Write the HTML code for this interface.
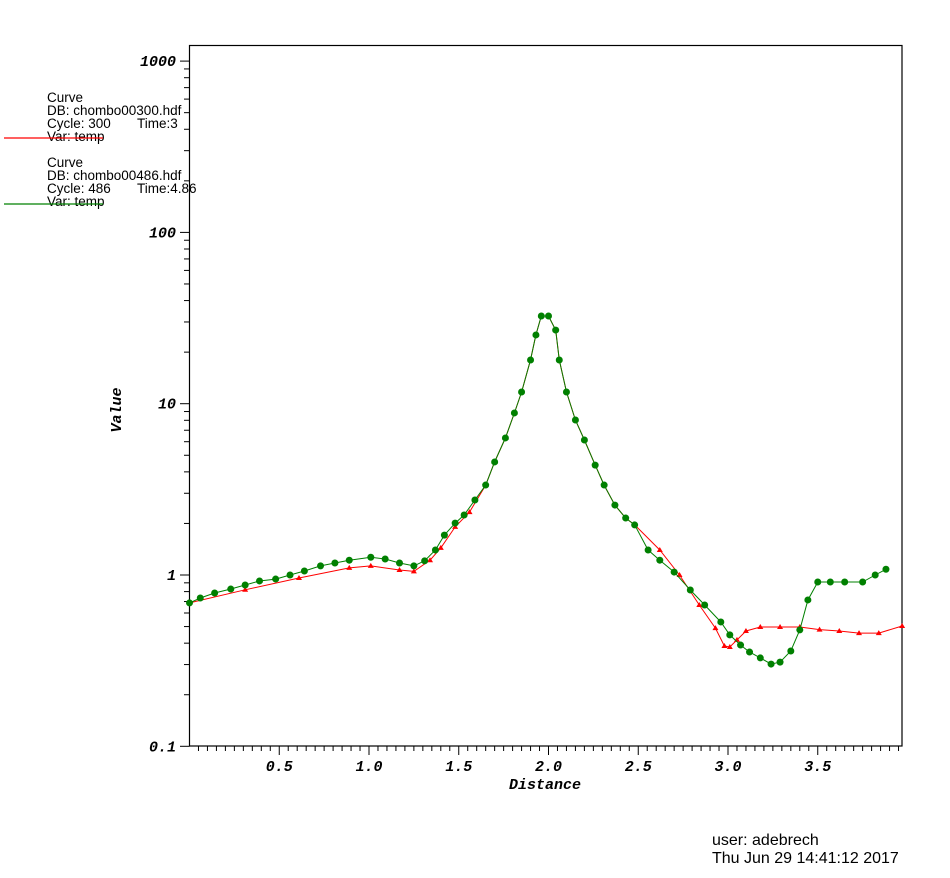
<!DOCTYPE html>
<html><head><meta charset="utf-8"><style>
body{margin:0;background:#fff;width:950px;height:878px;overflow:hidden}
svg{display:block}
.lg{font-family:"Liberation Sans",sans-serif;font-size:13.5px;fill:#000}
.ft{font-family:"Liberation Sans",sans-serif;font-size:16px;fill:#000}
.tk{font-family:"Liberation Mono",monospace;font-weight:bold;font-style:italic;font-size:15px;fill:#000}
</style></head><body>
<svg id="chart" width="950" height="878" xmlns="http://www.w3.org/2000/svg">
<rect x="189.5" y="45.5" width="712.5" height="700.5" fill="none" stroke="#000" stroke-width="1.2"/>
<g id="axes"></g>
<g id="series"></g>
<text class="tk" transform="translate(121,410) rotate(-90)" text-anchor="middle">Value</text>
<text class="tk" x="545" y="789" text-anchor="middle">Distance</text>
<g>
<text class="lg" x="47" y="102">Curve</text>
<text class="lg" x="47" y="115">DB: chombo00300.hdf</text>
<text class="lg" x="47" y="128">Cycle: 300</text><text class="lg" x="137" y="128">Time:3</text>
<text class="lg" x="47" y="141">Var: temp</text>
<line x1="4" y1="138" x2="103" y2="138" stroke="red" stroke-width="1.2"/>
<text class="lg" x="47" y="167">Curve</text>
<text class="lg" x="47" y="180">DB: chombo00486.hdf</text>
<text class="lg" x="47" y="193">Cycle: 486</text><text class="lg" x="137" y="193">Time:4.86</text>
<text class="lg" x="47" y="206">Var: temp</text>
<line x1="4" y1="204" x2="103" y2="204" stroke="green" stroke-width="1.2"/>
</g>
<text class="ft" x="712" y="845">user: adebrech</text>
<text class="ft" x="712" y="863">Thu Jun 29 14:41:12 2017</text>
</svg>
<script>
const xTicks=[0.5,1.0,1.5,2.0,2.5,3.0,3.5];
const xTickLabels=["0.5","1.0","1.5","2.0","2.5","3.0","3.5"];
const yTicks=[0.1,1,10,100,1000];
const yTickLabels=["0.1","1","10","100","1000"];
const greenX=[0,0.06,0.14,0.23,0.31,0.39,0.48,0.56,0.64,0.73,0.81,0.89,1.01,1.09,1.17,1.25,1.31,1.37,1.42,1.48,1.53,1.59,1.65,1.70,1.76,1.81,1.85,1.90,1.93,1.96,2.00,2.04,2.06,2.10,2.15,2.20,2.26,2.31,2.37,2.43,2.48,2.555,2.62,2.70,2.79,2.87,2.96,3.01,3.07,3.12,3.18,3.24,3.29,3.35,3.40,3.445,3.50,3.57,3.65,3.75,3.82,3.88];
const greenY=[0.687,0.734,0.785,0.828,0.874,0.923,0.947,1.0,1.055,1.13,1.175,1.22,1.27,1.24,1.175,1.13,1.21,1.40,1.71,2.01,2.24,2.74,3.35,4.57,6.31,8.83,11.7,18.0,25.2,32.5,32.5,26.9,18.0,11.7,8.03,6.14,4.38,3.35,2.56,2.15,1.96,1.40,1.22,1.04,0.817,0.668,0.532,0.447,0.390,0.355,0.328,0.302,0.310,0.360,0.478,0.715,0.910,0.910,0.910,0.910,1.0,1.08];
const redX=[0,0.31,0.61,0.89,1.01,1.17,1.25,1.34,1.40,1.48,1.56,1.65,1.70,1.76,1.81,1.85,1.90,1.93,1.96,2.00,2.04,2.06,2.10,2.15,2.20,2.26,2.31,2.37,2.43,2.48,2.62,2.73,2.84,2.93,2.98,3.01,3.05,3.10,3.18,3.29,3.40,3.51,3.62,3.73,3.84,3.97];
const redY=[0.687,0.82,0.96,1.10,1.13,1.07,1.05,1.22,1.44,1.91,2.33,3.35,4.57,6.31,8.83,11.7,18.0,25.2,32.5,32.5,26.9,18.0,11.7,8.03,6.14,4.38,3.35,2.56,2.15,1.96,1.40,1.0,0.668,0.49,0.385,0.38,0.418,0.471,0.497,0.497,0.497,0.48,0.471,0.458,0.458,0.504];
const NS="http://www.w3.org/2000/svg";
const X0=189.5,PX=179.5,Y1=575,DEC=171.3;
function sx(v){return X0+v*PX;}
function sy(v){return Y1-Math.log10(v)*DEC;}
function mk(t,a,p){const e=document.createElementNS(NS,t);for(const k in a)e.setAttribute(k,a[k]);p.appendChild(e);return e;}
const ax=document.getElementById('axes');
for(let i=1;i<=79;i++){const v=i*0.05;const maj=i%10===0;const x=sx(v);
 const t=mk('line',{x1:x,y1:746,x2:x,y2:maj?755:751,stroke:'#000','stroke-width':1},ax);
 
 }
xTicks.forEach((v,i)=>{const t=mk('text',{x:sx(v),y:771,'text-anchor':'middle',class:'tk'},ax);t.textContent=xTickLabels[i];
 
 });
yTicks.forEach((v,i)=>{const y=sy(v);
 const l=mk('line',{x1:180,y1:y,x2:189.5,y2:y,stroke:'#000','stroke-width':1},ax);
 
 
 const t=mk('text',{x:176,y:y+5,'text-anchor':'end',class:'tk'},ax);t.textContent=yTickLabels[i];
 
 
 if(i<yTicks.length-1){for(let m=2;m<=9;m++){const yy=sy(v*m);
  const ml=mk('line',{x1:184,y1:yy,x2:189.5,y2:yy,stroke:'#000','stroke-width':1},ax);
  
  }}
});
const se=document.getElementById('series');
function pts(xs,ys){return xs.map((x,i)=>sx(x).toFixed(1)+','+sy(ys[i]).toFixed(1)).join(' ');}
const rl=mk('polyline',{points:pts(redX,redY),fill:'none',stroke:'red','stroke-width':1},se);


redX.forEach((x,i)=>{const cx=sx(x),cy=sy(redY[i]);
 const p=mk('polygon',{points:`${cx-3},${cy+2} ${cx+3},${cy+2} ${cx},${cy-3}`,fill:'red'},se);
 
 });
const gl=mk('polyline',{points:pts(greenX,greenY),fill:'none',stroke:'green','stroke-width':1},se);


greenX.forEach((x,i)=>{
 const c=mk('circle',{cx:sx(x),cy:sy(greenY[i]),r:3.5,fill:'green'},se);
 
 });
</script>
</body></html>
